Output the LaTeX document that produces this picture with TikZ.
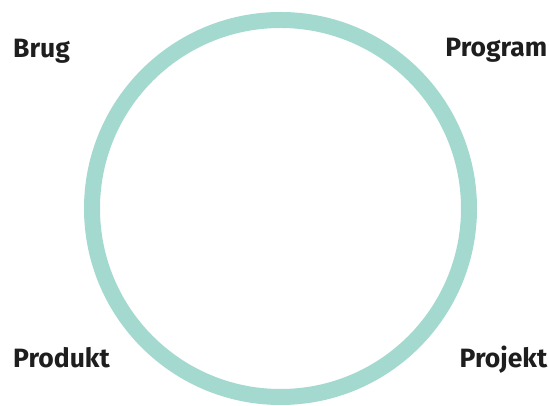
\documentclass[tikz,border=0pt]{standalone}
\usepackage{fontspec}
\setmainfont{Fira Sans}
\definecolor{ringcol}{HTML}{A3D9CF}
\definecolor{txtcol}{HTML}{1E1E1E}
\begin{document}
\begin{tikzpicture}[x=1pt,y=1pt,
  lbl/.style={inner sep=0pt,font=\fontsize{26.5}{31}\selectfont\bfseries,text=txtcol}]
\useasboundingbox (0,0) rectangle (549,406);
\node[draw=ringcol,line width=16pt,circle,minimum size=377pt,inner sep=0pt] (ring) at (280.5,197.5) {};
\node[lbl,anchor=base west] (brug) at (13,348) {Brug};
\node[lbl,anchor=base east] (program) at (547.5,349) {Program};
\node[lbl,anchor=base west] (produkt) at (13,38) {Produkt};
\node[lbl,anchor=base east] (projekt) at (547.5,38) {Projekt};
\end{tikzpicture}
\end{document}
